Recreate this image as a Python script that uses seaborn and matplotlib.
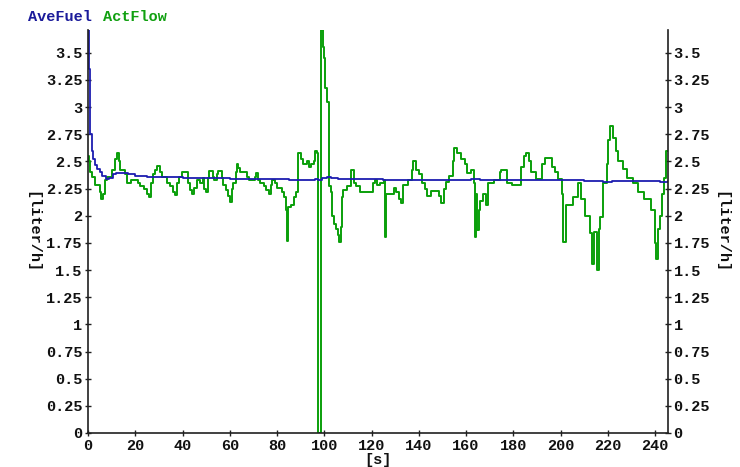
import matplotlib
matplotlib.use("Agg")
import matplotlib.pyplot as plt
import seaborn as sns
import pandas as pd
from matplotlib.ticker import FixedLocator, FuncFormatter

# ---- data -------------------------------------------------------------
flow_t = [0, 0.5, 1, 1.7, 3, 5, 5.7, 6.5, 7, 8, 10, 11.5, 12.2, 13, 13.5, 15.5, 16.5, 18,
          21, 22, 23.5, 25, 26, 26.7, 27.5, 28.5, 29.3, 30.5, 31.5, 33.5, 34.5, 36, 37, 37.7,
          38.5, 39.8, 42.3, 43, 44, 45, 46, 47.5, 48.5, 49.3, 50, 50.8, 51.3, 52.8, 53.3,
          54.7, 55.2, 56.7, 57.3, 58.5, 59.3, 60, 60.8, 61.5, 62.5, 63, 63.7, 64.3, 67.5,
          68, 70.7, 71.3, 72, 73, 74.5, 75.5, 76.5, 77.3, 78, 79.3, 80, 82.3, 83, 83.8,
          84.2, 84.8, 86, 87, 88, 88.7, 89, 90, 91, 92.5, 93.5, 94.5, 95.5, 96, 97, 97.5,
          98.8, 99.3, 99.8, 100.3, 101.3, 102, 103, 103.4, 104, 105, 105.8, 106.2, 107,
          107.5, 108, 109.5, 111.5, 112.5, 113.5, 115, 120.5, 121.5, 122.5, 123.5, 125.5,
          125.8, 126.3, 129.5, 130.5, 131.5, 132.5, 133.5, 135.5, 137, 137.6, 139, 140,
          141.3, 142.5, 143.5, 145.3, 148.5, 149.3, 150.5, 151.5, 153, 154.3, 155, 156,
          158, 159.5, 160.5, 162, 163.2, 163.8, 164.3, 164.8, 165.5, 166, 167, 168.5,
          169.5, 172, 174.3, 175, 177.5, 179.5, 183.3, 184.5, 185.2, 186.5, 187.5, 189.5,
          192.3, 193.5, 196.5, 197.5, 199, 200.7, 201.2, 202.2, 205.3, 207.3, 208.7,
          210.3, 212.3, 213.3, 214, 215.5, 216.1, 216.8, 217.8, 219.5, 220.2, 221, 222.3,
          223.5, 224.5, 226.3, 228.3, 230.5, 232.8, 235.5, 238.5, 240, 240.6, 241.2, 242,
          243, 244, 244.8, 245.5]
flow_v = [2.55, 2.50, 2.40, 2.36, 2.28, 2.22, 2.15, 2.20, 2.33, 2.36, 2.42, 2.52, 2.58, 2.50,
          2.42, 2.38, 2.30, 2.33, 2.30, 2.27, 2.25, 2.20, 2.17, 2.30, 2.38, 2.42, 2.46, 2.40,
          2.36, 2.30, 2.27, 2.22, 2.19, 2.30, 2.36, 2.40, 2.30, 2.24, 2.20, 2.26, 2.33, 2.30,
          2.35, 2.25, 2.22, 2.35, 2.41, 2.36, 2.33, 2.38, 2.41, 2.35, 2.28, 2.24, 2.18, 2.13,
          2.25, 2.30, 2.40, 2.48, 2.44, 2.40, 2.36, 2.33, 2.36, 2.39, 2.33, 2.30, 2.27, 2.24,
          2.20, 2.28, 2.33, 2.30, 2.26, 2.22, 2.17, 2.05, 1.77, 2.08, 2.10, 2.17, 2.22, 2.30,
          2.58, 2.52, 2.48, 2.50, 2.45, 2.48, 2.50, 2.60, 2.58, 0.0, 3.71, 3.55, 3.45, 3.18,
          3.05, 2.27, 2.22, 2.00, 1.92, 1.88, 1.82, 1.76, 1.90, 2.17, 2.24, 2.27, 2.42, 2.30,
          2.27, 2.22, 2.30, 2.33, 2.28, 2.30, 2.33, 1.80, 2.20, 2.26, 2.22, 2.15, 2.12, 2.28,
          2.33, 2.42, 2.50, 2.42, 2.38, 2.30, 2.25, 2.18, 2.23, 2.18, 2.12, 2.25, 2.31, 2.37,
          2.50, 2.62, 2.58, 2.52, 2.48, 2.39, 2.42, 2.30, 1.80, 2.20, 1.87, 2.05, 2.14, 2.20,
          2.10, 2.30, 2.33, 2.40, 2.42, 2.30, 2.28, 2.45, 2.55, 2.58, 2.50, 2.40, 2.34, 2.48,
          2.53, 2.45, 2.40, 2.34, 2.20, 1.76, 2.10, 2.17, 2.30, 2.15, 2.00, 1.84, 1.56, 1.85,
          1.50, 1.88, 1.99, 2.30, 2.48, 2.70, 2.83, 2.72, 2.60, 2.50, 2.43, 2.35, 2.30, 2.22,
          2.15, 2.05, 1.75, 1.60, 1.88, 2.00, 2.20, 2.35, 2.60, 2.60]

fuel_t = [0, 0.3, 0.7, 1.0, 1.5, 2.2, 3, 4, 5, 6, 7.5, 9, 10.5, 12, 14, 17, 20, 25, 30, 40,
          50, 60, 70, 80, 85, 90, 96, 97.5, 99, 101, 103, 106, 110, 125, 140, 150, 160, 162,
          166, 175, 190, 200, 210, 218, 222, 235, 240, 242, 245.5]
fuel_v = [3.71, 3.35, 2.90, 2.75, 2.60, 2.52, 2.47, 2.43, 2.40, 2.37, 2.34, 2.35, 2.38, 2.39,
          2.39, 2.38, 2.37, 2.36, 2.36, 2.35, 2.35, 2.34, 2.34, 2.34, 2.33, 2.33, 2.34, 2.33,
          2.35, 2.36, 2.35, 2.34, 2.34, 2.33, 2.33, 2.33, 2.33, 2.34, 2.33, 2.33, 2.33, 2.33,
          2.32, 2.31, 2.32, 2.32, 2.32, 2.31, 2.32]

x_ticks = [0, 20, 40, 60, 80, 100, 120, 140, 160, 180, 200, 220, 240]
y_ticks = [0, 0.25, 0.5, 0.75, 1, 1.25, 1.5, 1.75, 2, 2.25, 2.5, 2.75, 3, 3.25, 3.5]
series_names = ["AveFuel", "ActFlow"]
x_label = "[s]"
y_label = "[liter/h]"

# ---- style ------------------------------------------------------------
sns.set_style("ticks")
plt.rcParams["font.family"] = ["Liberation Mono", "DejaVu Sans Mono"]
plt.rcParams["font.weight"] = "bold"

GREEN = "#0a9f0a"
BLUE = "#1c1cb0"
AXC = "#202020"
FS = 11

fig = plt.figure(figsize=(7.4, 4.67), dpi=100)
ax = fig.add_axes([88 / 740, 34 / 467, 580 / 740, 403 / 467])

flow_df = pd.DataFrame({"t": flow_t, "v": flow_v})
fuel_df = pd.DataFrame({"t": fuel_t, "v": fuel_v})

sns.lineplot(data=flow_df, x="t", y="v", ax=ax, color=GREEN, lw=1.4,
             drawstyle="steps-post", estimator=None, sort=False)
sns.lineplot(data=fuel_df, x="t", y="v", ax=ax, color=BLUE, lw=1.3,
             drawstyle="steps-post", estimator=None, sort=False)

ax.set_xlim(0, 245.5)
ax.set_ylim(0, 3.71)

fmt = FuncFormatter(lambda v, p: f"{v:g}")
ax.xaxis.set_major_locator(FixedLocator(x_ticks))
ax.yaxis.set_major_locator(FixedLocator(y_ticks))
ax.yaxis.set_major_formatter(fmt)

for side in ["left", "right", "bottom"]:
    ax.spines[side].set_visible(True)
    ax.spines[side].set_color(AXC)
    ax.spines[side].set_linewidth(1.2)
ax.spines["top"].set_visible(False)

ax.tick_params(axis="both", direction="inout", length=4, width=1, color=AXC,
               labelsize=FS, labelcolor="#111111")
ax.tick_params(axis="y", left=True, right=True, labelleft=True, labelright=True, pad=2)
ax.tick_params(axis="x", pad=2)
for lbl in ax.get_xticklabels() + ax.get_yticklabels():
    lbl.set_fontweight("bold")

ax.set_xlabel(x_label, fontsize=FS, fontweight="bold", labelpad=0, color="#111111")
ax.set_ylabel("")
fig.text(32 / 740, 1 - 232 / 467, y_label, rotation=270, ha="center", va="center",
         fontsize=FS, fontweight="bold", color="#111111")
fig.text(721 / 740, 1 - 232 / 467, y_label, rotation=270, ha="center", va="center",
         fontsize=FS, fontweight="bold", color="#111111")

fig.text(28 / 740, 1 - 17 / 467, series_names[0], ha="left", va="center",
         fontsize=FS, fontweight="bold", color="#1a1a9a")
fig.text(103 / 740, 1 - 17 / 467, series_names[1], ha="left", va="center",
         fontsize=FS, fontweight="bold", color="#10a010")

fig.savefig("out.png", dpi=100, facecolor="white")
